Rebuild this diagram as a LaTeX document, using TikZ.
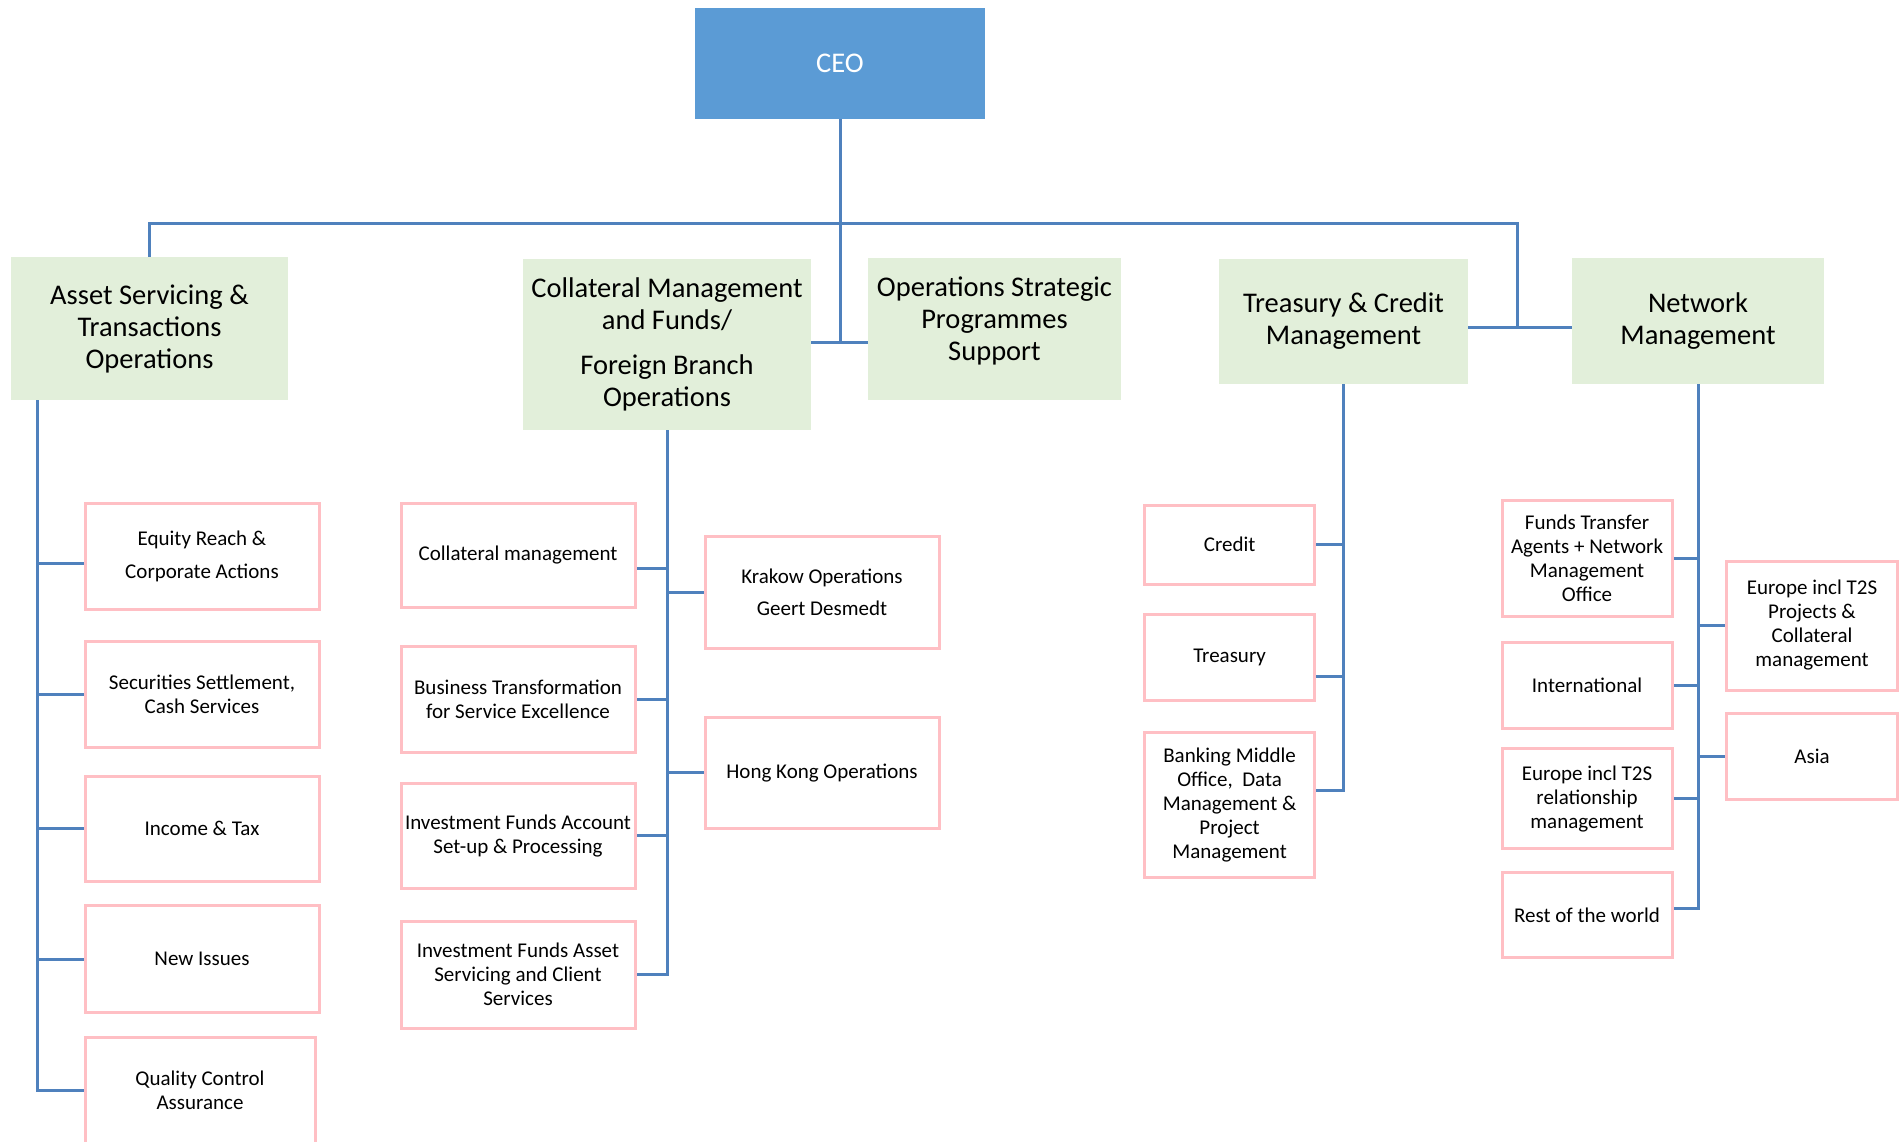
\documentclass[tikz,border=0pt]{standalone}
\usepackage{fontspec}
\setmainfont{Carlito}
\usetikzlibrary{positioning}
\definecolor{ceoblue}{HTML}{5B9BD5}
\definecolor{linkblue}{HTML}{4F81BD}
\definecolor{headgreen}{HTML}{E2EFDA}
\definecolor{unitpink}{HTML}{FFBFC4}

\begin{document}
\begin{tikzpicture}[x=1pt, y=-1pt,
        head/.style={fill=headgreen, align=center, inner sep=0pt, font=\fontsize{28.5}{32}\selectfont},
        unit/.style={draw=unitpink, line width=3pt, fill=white, align=center, inner sep=0pt, font=\fontsize{21}{24}\selectfont},
        edge_style/.style={draw=linkblue, line width=3pt}]
        \useasboundingbox (0,0) rectangle (1900,1141);
        \node[fill=ceoblue, text=white, minimum width=290pt, minimum height=111pt, font=\fontsize{28.5}{32}\selectfont] (ceo) at (840,63.5) {CEO};

        \node[head, minimum width=277pt, minimum height=143pt] (asset) at (149.5,328.5) {Asset Servicing \&\\Transactions\\Operations};
        \node[head, minimum width=288pt, minimum height=171pt] (coll) at (667,344.5) {Collateral Management\\and Funds/\\[13pt]Foreign Branch\\Operations};
        \node[head, minimum width=253pt, minimum height=142pt] (ops) at (994.5,329) {Operations Strategic\\Programmes\\Support\\[-11pt]};
        \node[head, minimum width=249pt, minimum height=125pt] (treas) at (1343.5,321.5) {Treasury \& Credit\\Management};
        \node[head, minimum width=252pt, minimum height=126pt] (net) at (1698,321) {Network\\Management};

        \node[unit, minimum width=234pt, minimum height=106pt] (equity) at (202,556) {Equity Reach \&\\[9pt]Corporate Actions};
        \node[unit, minimum width=234pt, minimum height=106pt] (settle) at (202,694) {Securities Settlement,\\Cash Services};
        \node[unit, minimum width=234pt, minimum height=105pt] (income) at (202,828.5) {Income \& Tax};
        \node[unit, minimum width=234pt, minimum height=107pt] (issues) at (202,959) {New Issues};
        \node[unit, minimum width=230pt, minimum height=106pt] (quality) at (200,1090) {Quality Control\\Assurance};

        \node[unit, minimum width=234pt, minimum height=104pt] (collmgmt) at (518,555) {Collateral management};
        \node[unit, minimum width=234pt, minimum height=106pt] (bizform) at (518,699.5) {Business Transformation\\for Service Excellence};
        \node[unit, minimum width=234pt, minimum height=105pt] (fundacc) at (518,835.5) {Investment Funds Account\\Set-up \& Processing};
        \node[unit, minimum width=234pt, minimum height=107pt] (fundasset) at (518,974.5) {Investment Funds Asset\\Servicing and Client\\Services};
        \node[unit, minimum width=234pt, minimum height=112pt] (krakow) at (822,592.7) {Krakow Operations\\[8pt]Geert Desmedt};
        \node[unit, minimum width=234pt, minimum height=111pt] (hongkong) at (822,772.7) {Hong Kong Operations};

        \node[unit, minimum width=170pt, minimum height=79pt] (credit) at (1229.6,544.7) {Credit};
        \node[unit, minimum width=170pt, minimum height=86pt] (treasury) at (1229.6,657) {Treasury};
        \node[unit, minimum width=170pt, minimum height=145pt] (banking) at (1229.6,805) {Banking Middle\\Office,~ Data\\Management \&\\Project\\Management};

        \node[unit, minimum width=170pt, minimum height=116pt] (transfer) at (1587,558) {Funds Transfer\\Agents + Network\\Management\\Office};
        \node[unit, minimum width=170pt, minimum height=86pt] (intl) at (1587,685) {International};
        \node[unit, minimum width=170pt, minimum height=100pt] (eurorel) at (1587,798.8) {Europe incl T2S\\relationship\\management};
        \node[unit, minimum width=170pt, minimum height=85pt] (rest) at (1587,915) {Rest of the world};
        \node[unit, minimum width=171pt, minimum height=129pt] (europroj) at (1812,625.5) {Europe incl T2S\\Projects \&\\Collateral\\management};
        \node[unit, minimum width=171pt, minimum height=86pt] (asia) at (1812,756) {Asia};

        \coordinate (bus) at (840,223);
        \coordinate (cojoin) at (840,342);
        \coordinate (tnjoin) at (1517,327);
        \coordinate (aspine) at ([xshift=27pt]asset.south west);

        \draw[edge_style] (ceo.south) -- (cojoin);
        \draw[edge_style] (coll.east |- cojoin) -- (ops.west |- cojoin);
        \draw[edge_style] (asset.north) |- (bus) -| (tnjoin);
        \draw[edge_style] (treas.east |- tnjoin) -- (net.west |- tnjoin);

        \draw[edge_style] (aspine) |- ([yshift=-7pt]equity.west);
        \draw[edge_style] (aspine) |- (settle.west);
        \draw[edge_style] (aspine) |- (income.west);
        \draw[edge_style] (aspine) |- (issues.west);
        \draw[edge_style] (aspine) |- (quality.west);

        \draw[edge_style] (coll.south) |- ([yshift=-13pt]collmgmt.east);
        \draw[edge_style] (coll.south) |- (bizform.east);
        \draw[edge_style] (coll.south) |- (fundacc.east);
        \draw[edge_style] (coll.south) |- (fundasset.east);
        \draw[edge_style] (coll.south) |- (krakow.west);
        \draw[edge_style] (coll.south) |- (hongkong.west);

        \draw[edge_style] (treas.south) |- (credit.east);
        \draw[edge_style] (treas.south) |- ([yshift=-19pt]treasury.east);
        \draw[edge_style] (treas.south) |- ([yshift=15pt]banking.east);

        \draw[edge_style] (net.south) |- (transfer.east);
        \draw[edge_style] (net.south) |- (intl.east);
        \draw[edge_style] (net.south) |- (eurorel.east);
        \draw[edge_style] (net.south) |- ([yshift=7pt]rest.east);
        \draw[edge_style] (net.south) |- (europroj.west);
        \draw[edge_style] (net.south) |- (asia.west);
      \end{tikzpicture}
\end{document}
